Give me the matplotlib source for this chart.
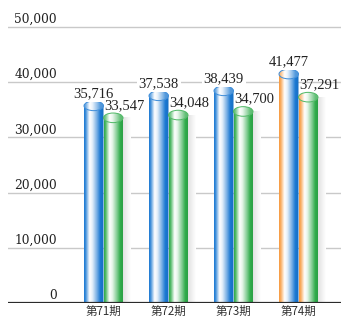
import numpy as np
import matplotlib.pyplot as plt
import matplotlib.transforms as mtransforms
from matplotlib.colors import LinearSegmentedColormap, to_rgb
from matplotlib.patches import Ellipse, PathPatch
from matplotlib.path import Path

periods = ['第71期', '第72期', '第73期', '第74期']
series_a = [35716, 37538, 38439, 41477]
series_b = [33547, 34048, 34700, 37291]
yticks = [0, 10000, 20000, 30000, 40000, 50000]
ytick_labels = ['0', '10,000', '20,000', '30,000', '40,000', '50,000']

BLUE = '#1a78d2'
GREEN = '#2fab4a'
ORANGE = '#f79a3e'


def mix(c, other, t):
    c = np.array(to_rgb(c))
    o = np.array(to_rgb(other))
    return tuple(c * (1 - t) + o * t)


def cylinder_cmap(left, right, lighten=0.0):
    stops = [
        (0.0, left),
        (0.08, mix(left, 'white', 0.15)),
        (0.28, 'white'),
        (0.42, mix(right, 'white', 0.88)),
        (0.65, mix(right, 'white', 0.4)),
        (0.82, right),
        (1.0, mix(right, 'black', 0.08)),
    ]
    stops = [(p, mix(c, 'white', lighten)) for p, c in stops]
    return LinearSegmentedColormap.from_list('cyl', stops)


def draw_cylinder(ax, x0, width, value, left, right, cap_h):
    grad = np.linspace(0, 1, 256).reshape(1, -1)
    x1 = x0 + width
    # body: rectangle plus the lower half of the top ellipse
    n = 60
    t = np.linspace(np.pi, 2 * np.pi, n)
    ex = x0 + width / 2 + width / 2 * np.cos(t)
    ey = value + cap_h * np.sin(t)
    verts = [(x0, 0), (x0, value)] + list(zip(ex, ey)) + [(x1, value), (x1, 0), (x0, 0)]
    body = PathPatch(Path(verts), facecolor='none', edgecolor='none')
    ax.add_patch(body)
    im = ax.imshow(grad, cmap=cylinder_cmap(left, right), aspect='auto',
                   extent=(x0, x1, 0, value), zorder=3, interpolation='bilinear')
    im.set_clip_path(body)
    # top cap
    cap = Ellipse((x0 + width / 2, value), width, 2 * cap_h,
                  facecolor='none', edgecolor=mix(right, 'white', 0.15), lw=0.7, zorder=4)
    ax.add_patch(cap)
    im2 = ax.imshow(grad, cmap=cylinder_cmap(left, right, 0.25), aspect='auto',
                    extent=(x0, x1, value - cap_h, value + cap_h), zorder=3.5,
                    interpolation='bilinear')
    im2.set_clip_path(cap)


fig = plt.figure(figsize=(3.41, 3.21), dpi=100)
ymax = 50000 * 303 / 276
ax = fig.add_axes([8 / 341, 18 / 321, 333 / 341, 303 / 321])
ax.set_axis_off()

xmin, xmax = -95.5 / 65, (341 - 103.5) / 65
width = 0.3
cap_h = 870

for yv in yticks[1:]:
    ax.axhline(yv, color='#c9c9c9', lw=1.0, zorder=1)
ax.axhline(0, color='#2b2b2b', lw=1.6, zorder=6)

serif = 'DejaVu Serif'
tick_tr = mtransforms.offset_copy(ax.get_yaxis_transform(), fig=fig, y=4, units='dots')
for yv, lab in zip(yticks, ytick_labels):
    ax.text((57 - 8) / 333, yv, lab, transform=tick_tr, ha='right', va='baseline',
            fontsize=8.8, family=serif, color='#222222')

val_tr = mtransforms.offset_copy(ax.transData, fig=fig, y=9, units='dots')
for i, (a, b) in enumerate(zip(series_a, series_b)):
    left_a = ORANGE if i == 3 else BLUE
    left_b = ORANGE if i == 3 else GREEN
    # soft shadow right of the pair
    shadow = LinearSegmentedColormap.from_list('sh', ['#e2e2e2', '#ffffff'])
    ax.imshow(np.linspace(0, 1, 64).reshape(1, -1), cmap=shadow, aspect='auto',
              extent=(i + width, i + width + 0.11, 0, b), zorder=2)
    draw_cylinder(ax, i - width, width, a, left_a, BLUE, cap_h)
    draw_cylinder(ax, i, width, b, left_b, GREEN, cap_h)
    ax.text(i - width / 2, a, f'{a:,}', transform=val_tr, ha='center', va='baseline',
            fontsize=10.5, family='Liberation Serif', color='#222222', zorder=7,
            bbox=dict(facecolor='white', edgecolor='none', pad=1.5))
    ax.text(i + 0.015, b, f'{b:,}', transform=val_tr, ha='left', va='baseline',
            fontsize=10.5, family='Liberation Serif', color='#222222', zorder=7)
    ax.text(i, -8.5 * ymax / 303, periods[i], ha='center', va='center',
            fontsize=8.3, family=['Noto Sans CJK JP', 'DejaVu Sans'], color='#333333')

ax.set_xlim(xmin, xmax)
ax.set_ylim(0, ymax)

fig.savefig('out.png', dpi=100, facecolor='white')
